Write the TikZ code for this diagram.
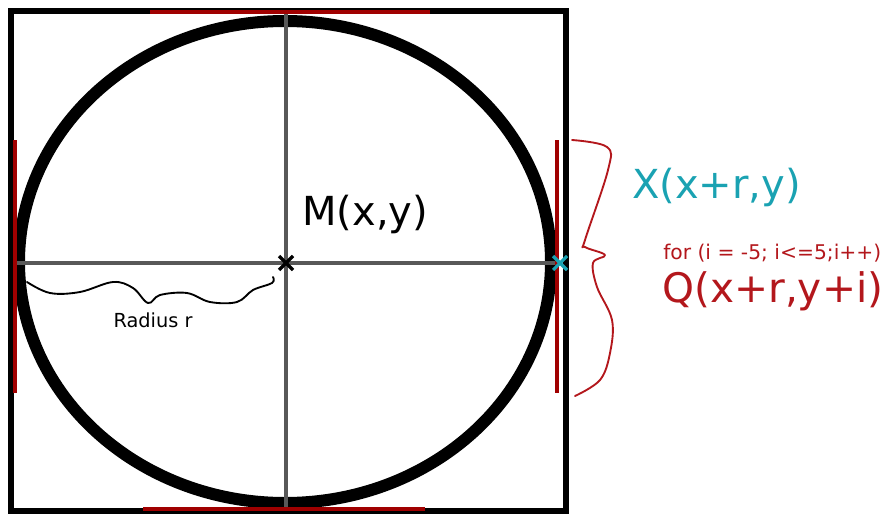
\documentclass[tikz,border=0pt]{standalone}
\usepackage{fontspec}
\setmainfont{DejaVu Sans}
\usetikzlibrary{positioning, calc}
\definecolor{frame}{HTML}{000000}
\definecolor{axis}{HTML}{585858}
\definecolor{tangent}{HTML}{A00000}
\definecolor{qred}{HTML}{B3171C}
\definecolor{xcyan}{HTML}{1AA2B2}
\tikzset{
  frm/.style={draw=frame, line width=5pt},
  circ/.style={draw=frame, line width=9pt},
  ax/.style={draw=axis, line width=3pt},
  tang/.style={draw=tangent, line width=3.5pt},
  brc/.style={line width=1.4pt, line join=round, line cap=round},
  lbl/.style={inner sep=0pt, anchor=base west, font=\fontsize{30}{35}\selectfont},
  slbl/.style={inner sep=0pt, font=\fontsize{14.5}{17}\selectfont},
  crossmk/.style={line width=2.4pt},
}
\begin{document}
\begin{tikzpicture}[x=0.75pt, y=-0.75pt]
  \useasboundingbox (0,0) rectangle (884,514);
  \coordinate (M) at (286,263);
  \coordinate (X) at (560,263);
  % square and circle
  \draw[frm] (11,11) rectangle (566,511);
  \draw[circ] (285,262) ellipse [x radius=266, y radius=241];
  % axes through M
  \draw[ax] (286,11) -- (286,511);
  \draw[ax] (15,263) -- (X);
  % tangent segments
  \draw[tang] (150,12) -- (430,12);
  \draw[tang] (143,509) -- (425,509);
  \draw[tang] (15,140) -- (15,393);
  \draw[tang] (557,140) -- (557,393);
  % centre and point X
  \draw[crossmk, frame] ($(M)+(-7,-7)$) -- ($(M)+(7,7)$) ($(M)+(-7,7)$) -- ($(M)+(7,-7)$);
  \draw[crossmk, xcyan] ($(X)+(-7,-7)$) -- ($(X)+(7,7)$) ($(X)+(-7,7)$) -- ($(X)+(7,-7)$);
  % radius brace
  \draw[brc, black] plot[smooth, tension=0.6] coordinates {(27,282) (50,293) (80,292) (113,282) (133,288) (148,303) (160,295) (187,293) (210,302) (237,302) (253,290) (272,283) (273,277)};
  \node[slbl, anchor=base] (rad) at (153,327) {Radius r};
  % brace along the right tangent
  \draw[brc, qred] plot[smooth, tension=0.6] coordinates {(572,140) (607,147) (608,170) (585,240) (585,247) (605,255) (593,263) (597,287) (612,320) (610,353) (600,380) (575,396)};
  % labels
  \node[lbl, text=black] (mlbl) at (302,225) {M(x,y)};
  \node[lbl, text=xcyan] (xlbl) at (632,198) {X(x+r,y)};
  \node[slbl, anchor=base west, text=qred, font=\fontsize{15.2}{18}\selectfont] (loop) at (663,259) {for (i = -5; i<=5;i++)};
  \node[lbl, text=qred, font=\fontsize{30.5}{35}\selectfont] (qlbl) at (662,302) {Q(x+r,y+i)};
\end{tikzpicture}
\end{document}
